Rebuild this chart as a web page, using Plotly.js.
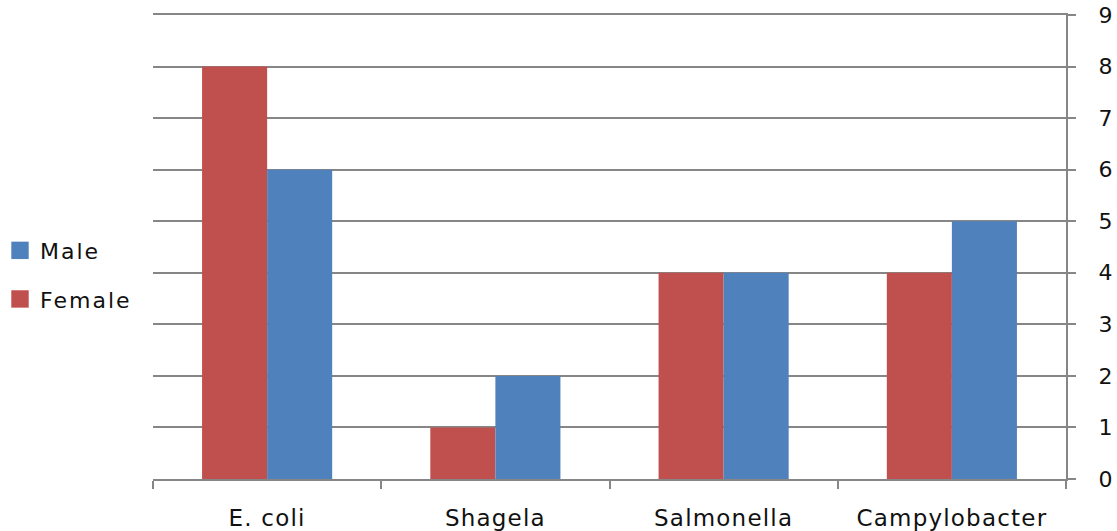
<!DOCTYPE html>
<html>
<head>
<meta charset="utf-8">
<script src="https://cdn.plot.ly/plotly-3.0.1.min.js"></script>
<style>
  html, body { margin: 0; padding: 0; background: #ffffff; }
  #chart { width: 1117px; height: 531px; }
  /* slightly spaced-out label lettering */
  #chart .xtick text { letter-spacing: 1.2px; }
  #chart .legendtext { letter-spacing: 2px; }
  #chart .legend .scrollbox { clip-path: none !important; }
  /* larger legend swatches */
  #chart .legendpoints path { transform: translate(20px, 0px) scale(1.45); }
</style>
</head>
<body>
<div id="chart"></div>
<script>
// Infection counts by pathogen, split by sex
const categories = ["E. coli", "Shagela", "Salmonella", "Campylobacter"];
const femaleCounts = [8, 1, 4, 4];
const maleCounts = [6, 2, 4, 5];
const yTicks = [0, 1, 2, 3, 4, 5, 6, 7, 8, 9];

const fontFamily = "DejaVu Sans, Verdana, sans-serif";
const textColor = "#111111";

const traces = [
  {
    type: "bar",
    name: "Female",
    legendgroup: "f",
    legendrank: 2,
    x: categories,
    y: femaleCounts,
    marker: { color: "#C0504D" },
    hoverinfo: "x+y+name"
  },
  {
    type: "bar",
    name: "Male",
    legendgroup: "m",
    legendrank: 1,
    x: categories,
    y: maleCounts,
    marker: { color: "#4F81BD" },
    hoverinfo: "x+y+name"
  }
];

const layout = {
  width: 1117,
  height: 531,
  margin: { l: 153, r: 51, t: 15, b: 52 },
  paper_bgcolor: "#ffffff",
  plot_bgcolor: "#ffffff",
  barmode: "group",
  bargap: 0.43,
  bargroupgap: 0,
  font: { family: fontFamily, size: 22, color: textColor },
  showlegend: true,
  legend: {
    xref: "container",
    yref: "container",
    x: 0.0,
    y: 0.482,
    xanchor: "left",
    yanchor: "middle",
    traceorder: "grouped",
    tracegroupgap: 17,
    bgcolor: "rgba(0,0,0,0)",
    font: { family: fontFamily, size: 22, color: textColor },
    itemwidth: 30
  },
  xaxis: {
    type: "category",
    showgrid: false,
    showline: true,
    mirror: true,
    linecolor: "#868686",
    linewidth: 2,
    ticks: "outside",
    tickson: "boundaries",
    ticklen: 8,
    tickwidth: 2,
    tickcolor: "#868686",
    ticklabelstandoff: 17,
    tickfont: { family: fontFamily, size: 23, color: textColor },
    zeroline: false,
    fixedrange: true
  },
  yaxis: {
    side: "right",
    range: [0, 9],
    tickvals: yTicks,
    ticktext: yTicks.map(String),
    showgrid: true,
    gridcolor: "#868686",
    gridwidth: 2,
    showline: true,
    linecolor: "#868686",
    linewidth: 2,
    ticks: "outside",
    ticklen: 8,
    tickwidth: 2,
    tickcolor: "#868686",
    ticklabelstandoff: 18,
    tickfont: { family: fontFamily, size: 22, color: textColor },
    zeroline: false,
    fixedrange: true
  }
};

Plotly.newPlot("chart", traces, layout, { displayModeBar: false, staticPlot: true });
</script>
</body>
</html>
